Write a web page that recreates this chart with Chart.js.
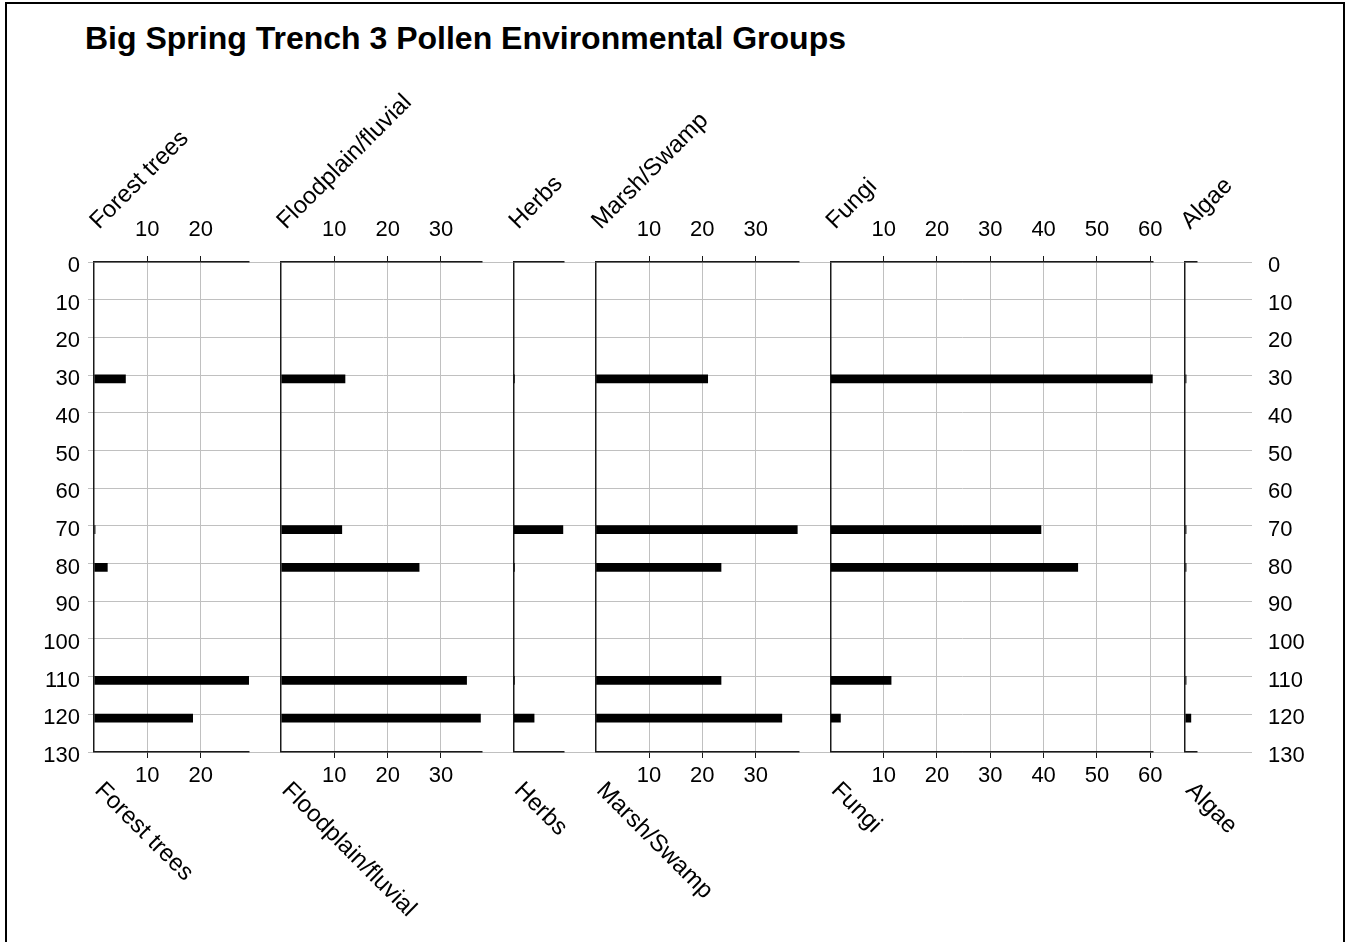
<!DOCTYPE html>
<html>
<head>
<meta charset="utf-8">
<script src="https://cdn.jsdelivr.net/npm/chart.js@4.4.1/dist/chart.umd.min.js"></script>
<style>
  html, body { margin: 0; padding: 0; background: #fff; overflow: hidden; }
  #page { position: relative; width: 1349px; height: 942px; overflow: hidden; }
  #frame { position: absolute; left: 5px; top: 2px; width: 1336px; height: 980px; border: 2px solid #000; }
  #title { position: absolute; left: 85px; top: 20px; font: bold 32px "Liberation Sans", Arial, sans-serif; color: #000; white-space: nowrap; }
  canvas { position: absolute; left: 0; top: 0; }
</style>
</head>
<body>
<div id="page">
  <div id="frame"></div>
  <div id="title">Big Spring Trench 3 Pollen Environmental Groups</div>
  <canvas id="grid" width="1349" height="942"></canvas>
</div>
<script>
// sample depths (cm) and group percentages
const depths = [31, 71, 81, 111, 121];
const groups = ['Forest trees', 'Floodplain/fluvial', 'Herbs', 'Marsh/Swamp', 'Fungi', 'Algae'];
const forestTrees = [5.9, 0.2, 2.5, 29.0, 18.5];
const floodplain = [12.0, 11.4, 25.9, 34.8, 37.4];
const herbs = [0.2, 9.3, 0.2, 0.2, 3.9];
const marshSwamp = [21.0, 37.8, 23.5, 23.5, 34.9];
const fungi = [60.4, 39.5, 46.4, 11.4, 1.9];
const algae = [0.2, 0.2, 0.2, 0.2, 1.1];
const groupValues = [forestTrees, floodplain, herbs, marshSwamp, fungi, algae];
const axisMax = [29.1, 37.6, 9.5, 38.1, 60.5, 2.2];
const depthMin = 0, depthMax = 130, depthStep = 10, pctStep = 10;

// layout (pixels)
const W = 1349, H = 942;
const plotTop = 262, plotBottom = 752, plotLeft = 94, plotRight = 1252;
const panelLeft = [94, 281, 513.3, 595.7, 830.3, 1185];
const pxPerUnit = 5.333;

const FONT = '"Liberation Sans", Arial, sans-serif';
const GRID = '#c0c0c0';
const AXIS = '#1a1a1a';

// background: depth axes + horizontal grid
new Chart(document.getElementById('grid'), {
  type: 'scatter',
  data: { datasets: [] },
  options: {
    responsive: false,
    animation: false,
    layout: { padding: { top: plotTop, bottom: H - plotBottom, left: 0, right: 0 } },
    plugins: { legend: { display: false }, tooltip: { enabled: false } },
    scales: {
      x: { display: false, min: 0, max: 1 },
      y: {
        position: 'left', min: depthMin, max: depthMax, reverse: true,
        ticks: { stepSize: depthStep, color: '#000', font: { family: FONT, size: 22 }, padding: 8, labelOffset: 4 },
        grid: { color: GRID, tickColor: GRID, tickLength: 6, lineWidth: 1 },
        border: { display: false },
        afterFit: s => { s.width = plotLeft; }
      },
      y2: {
        position: 'right', min: depthMin, max: depthMax, reverse: true,
        ticks: { stepSize: depthStep, color: '#000', font: { family: FONT, size: 22 }, padding: 16, labelOffset: 4 },
        grid: { display: false, drawTicks: false },
        border: { display: false },
        afterFit: s => { s.width = W - plotRight; }
      }
    }
  }
});

// rotated group names above and below each panel
const groupNames = {
  id: 'groupNames',
  afterDraw(chart, args, opts) {
    const ctx = chart.ctx;
    const x0 = chart.chartArea.left;
    ctx.save();
    ctx.fillStyle = '#000';
    ctx.font = '24px ' + FONT;
    ctx.textAlign = 'left';
    ctx.save();
    ctx.translate(x0 + 5, 230);
    ctx.rotate(-Math.PI / 4);
    ctx.textBaseline = 'alphabetic';
    ctx.fillText(opts.text, 0, 0);
    ctx.restore();
    ctx.save();
    ctx.translate(x0 + 13, 778);
    ctx.rotate(Math.PI / 4);
    ctx.textBaseline = 'top';
    ctx.fillText(opts.text, 0, 0);
    ctx.restore();
    ctx.restore();
  }
};

function pctAxis(pos, max, drawGrid) {
  return {
    type: 'linear', position: pos, min: 0, max: max,
    ticks: {
      stepSize: pctStep, includeBounds: false, color: '#000',
      font: { family: FONT, size: 22 }, padding: pos === 'top' ? 13 : 5,
      maxRotation: 0, autoSkip: false,
      callback: v => (v === 0 ? '' : v)
    },
    grid: {
      drawOnChartArea: drawGrid,
      color: c => (c.tick && c.tick.value === 0 ? AXIS : GRID),
      lineWidth: c => (c.tick && c.tick.value === 0 ? 1.5 : 1),
      tickColor: c => (c.tick && c.tick.value === 0 ? 'rgba(0,0,0,0)' : AXIS),
      tickLength: 6
    },
    border: { display: true, color: AXIS, width: 1.5 },
    afterFit: s => {
      s.height = pos === 'top' ? plotTop : H - plotBottom;
      s.paddingLeft = 0;
      s.paddingRight = 0;
    }
  };
}

groups.forEach((name, i) => {
  const cv = document.createElement('canvas');
  cv.width = W; cv.height = H;
  document.getElementById('page').appendChild(cv);
  const right = panelLeft[i] + axisMax[i] * pxPerUnit;
  new Chart(cv, {
    type: 'bar',
    data: {
      datasets: [{
        data: depths.map((d, k) => ({ x: groupValues[i][k], y: d })),
        backgroundColor: '#000',
        borderWidth: 0,
        barThickness: 8
      }]
    },
    options: {
      indexAxis: 'y',
      responsive: false,
      animation: false,
      layout: { padding: { left: panelLeft[i], right: W - right, top: 0, bottom: 0 } },
      plugins: {
        legend: { display: false },
        tooltip: { enabled: false },
        groupNames: { text: name }
      },
      scales: {
        y: { type: 'linear', min: depthMin, max: depthMax, reverse: true, offset: false, display: false },
        x: pctAxis('top', axisMax[i], true),
        x2: pctAxis('bottom', axisMax[i], false)
      }
    },
    plugins: [groupNames]
  });
});
</script>
</body>
</html>
